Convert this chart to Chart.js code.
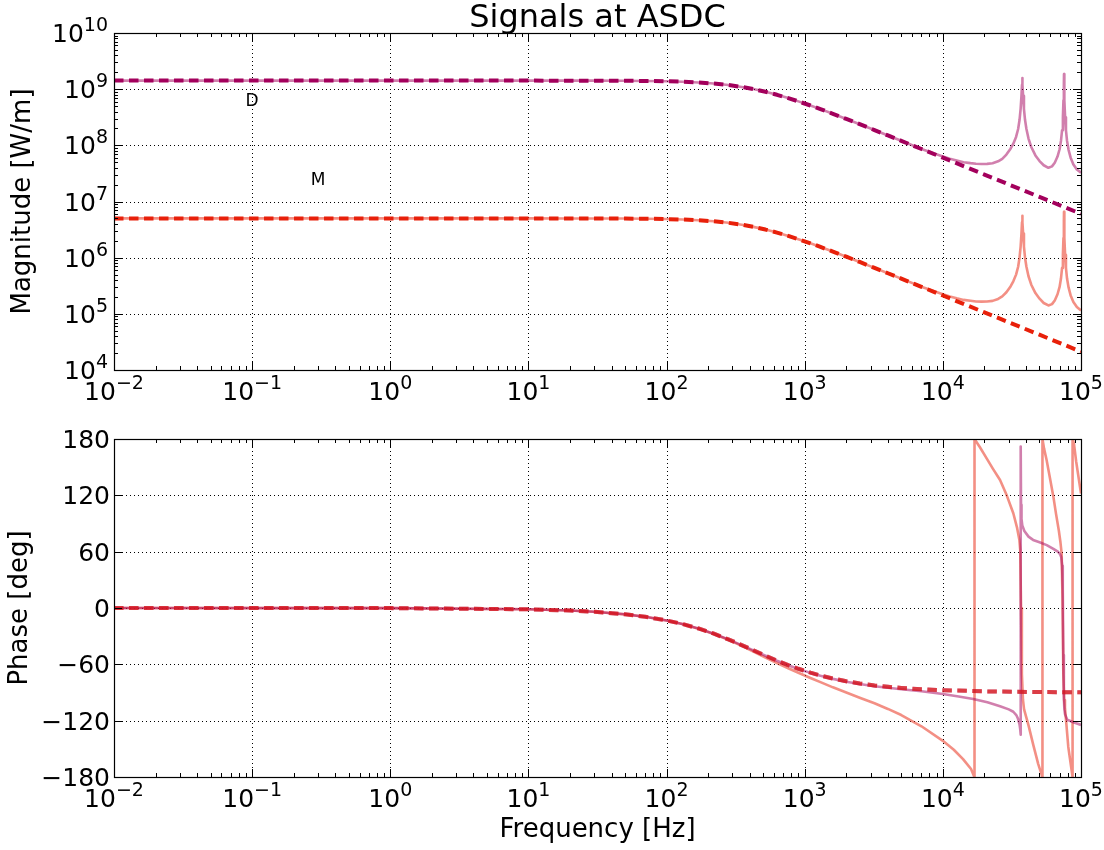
<!DOCTYPE html>
<html>
<head>
<meta charset="utf-8">
<script src="https://cdn.jsdelivr.net/npm/chart.js@4.4.0/dist/chart.umd.min.js"></script>
<style>
  body { margin: 0; background: #fff; }
  #wrap { position: relative; width: 1104px; height: 850px; }
  canvas { position: absolute; left: 0; }
  #mag { top: 0; }
  #phase { top: 420px; }
</style>
</head>
<body>
<div id="wrap">
  <canvas id="mag" width="1104" height="420"></canvas>
  <canvas id="phase" width="1104" height="430"></canvas>
</div>
<script>
// measured magnitude, frequency points in Hz
const freqMeas = [0.01, 1, 10, 20, 30, 50, 70, 100, 130, 170,
  220, 280, 350, 425, 520, 630, 760, 900, 1100, 1300,
  1600, 2000, 2500, 3200, 4000, 5000,
  7079, 10000, 11220, 12589, 14125, 15849, 17378, 19055, 20893, 22909,
  25119, 26915, 28840, 30903, 32359, 33884, 35075, 35892, 36559, 37068,
  37411, 37584, 37757, 38107, 38637, 39355, 40272, 41687, 43652, 46774,
  50119, 53703, 58076, 61660, 64565, 67608, 69984, 71614, 72946, 73961,
  74645, 75162, 75336, 75509, 76033, 76736, 77804, 79250, 81283, 84140,
  88105, 93325, 100000];
const magD = [1.42e9, 1.42e9, 1.42e9, 1.418e9, 1.417e9, 1.41e9, 1.401e9, 1.382e9, 1.358e9, 1.318e9,
  1.261e9, 1.186e9, 1.096e9, 1.004e9, 8.99e8, 7.94e8, 6.93e8, 6.06e8, 5.12e8, 4.41e8,
  3.65e8, 2.95e8, 2.38e8, 1.87e8, 1.5e8, 1.203e8,
  8.51e7, 6.31e7, 5.75e7, 5.35e7, 5.01e7, 4.82e7, 4.7e7, 4.66e7, 4.68e7, 4.79e7,
  5.19e7, 5.75e7, 6.84e7, 8.71e7, 1.07e8, 1.41e8, 1.95e8, 2.82e8, 4.47e8, 7.59e8,
  1.2e9, 1.58e9, 1.2e9, 7.59e8, 4.47e8, 2.82e8, 1.95e8, 1.32e8, 9.33e7, 6.61e7,
  5.25e7, 4.42e7, 3.98e7, 4.22e7, 4.9e7, 6.31e7, 8.51e7, 1.2e8, 1.86e8, 3.16e8,
  6.31e8, 1.26e9, 1.86e9, 1.26e9, 6.31e8, 3.16e8, 1.86e8, 1.2e8, 8.32e7, 6.03e7,
  4.57e7, 3.72e7, 3.26e7];
const magM = [5.0e6, 5.0e6, 5.0e6, 4.995e6, 4.988e6, 4.966e6, 4.934e6, 4.867e6, 4.781e6, 4.642e6,
  4.44e6, 4.175e6, 3.86e6, 3.536e6, 3.164e6, 2.796e6, 2.44e6, 2.135e6, 1.802e6, 1.554e6,
  1.284e6, 1.039e6, 8.38e5, 6.58e5, 5.28e5, 4.235e5,
  3.01e5, 2.23e5, 2.04e5, 1.89e5, 1.77e5, 1.71e5, 1.66e5, 1.65e5, 1.66e5, 1.7e5,
  1.84e5, 2.04e5, 2.42e5, 3.08e5, 3.79e5, 4.99e5, 6.9e5, 9.98e5, 1.58e6, 2.69e6,
  4.25e6, 5.59e6, 4.25e6, 2.69e6, 1.58e6, 9.98e5, 6.9e5, 4.67e5, 3.3e5, 2.34e5,
  1.86e5, 1.56e5, 1.41e5, 1.49e5, 1.73e5, 2.23e5, 3.01e5, 4.25e5, 6.58e5, 1.12e6,
  2.23e6, 4.46e6, 6.58e6, 4.46e6, 2.23e6, 1.12e6, 6.58e5, 4.25e5, 2.95e5, 2.13e5,
  1.62e5, 1.32e5, 1.15e5];

// model curves (dashed)
const freqModel = [0.01, 1, 10, 20, 30, 50, 70, 100, 130, 170,
  220, 280, 350, 425, 520, 630, 760, 900, 1100, 1300,
  1600, 2000, 2500, 3200, 4000, 5000, 7000, 10000, 20000, 50000, 100000];
const magDModel = [1.42e9, 1.42e9, 1.42e9, 1.418e9, 1.417e9, 1.41e9, 1.401e9, 1.382e9, 1.358e9, 1.318e9,
  1.261e9, 1.186e9, 1.096e9, 1.004e9, 8.99e8, 7.94e8, 6.93e8, 6.06e8, 5.12e8, 4.41e8,
  3.65e8, 2.95e8, 2.38e8, 1.87e8, 1.5e8, 1.203e8, 8.61e7, 6.03e7, 3.02e7, 1.207e7, 6.03e6];
const magMModel = [5.0e6, 5.0e6, 5.0e6, 4.995e6, 4.988e6, 4.966e6, 4.934e6, 4.867e6, 4.781e6, 4.642e6,
  4.44e6, 4.175e6, 3.86e6, 3.536e6, 3.164e6, 2.796e6, 2.44e6, 2.135e6, 1.802e6, 1.554e6,
  1.284e6, 1.039e6, 8.38e5, 6.58e5, 5.28e5, 4.235e5, 3.03e5, 2.12e5, 1.062e5, 4.25e4, 2.12e4];
const phaseModel = [0, -0.13, -1.35, -2.69, -4.04, -6.71, -9.35, -13.24, -17.01, -21.8,
  -27.37, -33.38, -39.47, -45, -50.74, -56, -60.79, -64.72, -68.87, -71.9,
  -75.13, -78, -80.35, -82.43, -83.93, -85.14, -86.53, -87.57, -88.78, -89.51, -89.76];

// measured phase, each trace on its own points
const freqPhaseD = [0.01, 1, 10, 20, 30, 50, 70, 100, 130, 170,
  220, 280, 350, 425, 520, 630, 760, 900, 1100, 1300,
  1600, 2000, 2500, 3200, 4000, 5000, 7000, 10000, 13000, 16600,
  21000, 25942, 30000, 32359, 34000, 35000, 35892, 36300, 36559, 36650,
  36800, 37100, 37584, 38905, 41687, 45000, 50119, 56494, 63096, 68000,
  70469, 72000, 73000, 73790, 74473, 75162, 75800, 76600, 79433, 89125,
  100000];
const phaseD = [0, -0.13, -1.35, -2.69, -4.04, -6.71, -9.35, -13.24, -17, -21.8,
  -27.4, -33.4, -39.5, -45.1, -50.9, -56.2, -61, -64.9, -69.1, -72.2,
  -75.5, -78.5, -81, -83.3, -85, -86.6, -88.7, -91.6, -94.2, -97,
  -100.5, -104.6, -108, -110.5, -114, -118, -124, -129, -135, 172,
  110, 95, 88, 82, 76, 72.5, 70, 67, 63, 60,
  57.5, 54, 45, 20, -50, -95, -108, -113, -119, -122,
  -124.6];
const freqPhaseM = [0.01, 1, 10, 20, 30, 50, 70, 100, 130, 170,
  220, 280, 350, 425, 520, 630, 760, 900, 1100, 1300,
  1600, 2000, 2500, 3200, 4000, 5000, 7000, 10000, 12000, 14000,
  16000, 16900, 16950, 18500, 20749, 23000, 25942, 29000, 32359, 34500,
  35810, 36308, 36813, 37325, 38019, 38726, 41687, 45186, 48978, 52000,
  52360, 52602, 54000, 56364, 60000, 63096, 66000, 69183, 71000, 72444,
  73451, 74473, 75509, 76560, 80910, 86497, 86696, 87096, 88920, 92257,
  100000];
const phaseM = [0, -0.13, -1.35, -2.7, -4.05, -6.75, -9.4, -13.3, -17.1, -22,
  -27.7, -33.9, -40.3, -46.3, -52.7, -58.6, -64.2, -69, -74.5, -79,
  -84.5, -90, -95.5, -101.5, -107.5, -114, -126, -141.5, -151, -161,
  -171.5, -180, 180, 171.5, 159.4, 148.5, 136.3, 120, 100.9, 85,
  72.4, 62, 0, -70, -98, -108, -125, -146, -166, -178,
  -180, 180, 170, 157.6, 136, 118.6, 100, 82, 70, 58,
  10, -70, -98, -106, -148, -178, -180, 180, 175, 156,
  122];

// axes
const freqDecades = [1e-2, 1e-1, 1e0, 1e1, 1e2, 1e3, 1e4, 1e5];
const freqExp = ['\u22122', '\u22121', '0', '1', '2', '3', '4', '5'];
const magDecades = [1e4, 1e5, 1e6, 1e7, 1e8, 1e9, 1e10];
const magExp = ['4', '5', '6', '7', '8', '9', '10'];
const phaseTicks = [-180, -120, -60, 0, 60, 120, 180];

// text notes on the magnitude plot
const noteText = ['D', 'M'];
const noteX = [0.1, 0.3];
const noteY = [5e8, 2e7];

const colD = 'rgb(163,0,92)';
const colM = 'rgb(232,32,10)';
const colDSoft = 'rgba(163,0,92,0.5)';
const colMSoft = 'rgba(232,32,10,0.5)';
const FONT = '"DejaVu Sans", sans-serif';

function powLabel(ctx, exp, x, y, align) {
  ctx.font = '25px ' + FONT;
  const wb = ctx.measureText('10').width;
  ctx.font = '19px ' + FONT;
  const we = ctx.measureText(exp).width;
  const x0 = align === 'right' ? x - wb - we : x - (wb + we) / 2;
  ctx.textAlign = 'left';
  ctx.textBaseline = 'alphabetic';
  ctx.font = '25px ' + FONT;
  ctx.fillText('10', x0, y);
  ctx.font = '19px ' + FONT;
  ctx.fillText(exp, x0 + wb, y - 11);
}

function seg(ctx, x1, y1, x2, y2) {
  ctx.beginPath();
  ctx.moveTo(x1, y1);
  ctx.lineTo(x2, y2);
  ctx.stroke();
}

const framePlugin = {
  id: 'frame',
  beforeDatasetsDraw(chart, args, o) {
    const { ctx, chartArea: a, scales: { x, y } } = chart;
    ctx.save();
    ctx.strokeStyle = '#000';
    ctx.lineWidth = 1;
    ctx.setLineDash([1, 3]);
    freqDecades.forEach(v => {
      const px = Math.round(x.getPixelForValue(v)) + 0.5;
      seg(ctx, px, a.top, px, a.bottom);
    });
    o.yTicks.forEach(v => {
      const py = Math.round(y.getPixelForValue(v)) + 0.5;
      seg(ctx, a.left, py, a.right, py);
    });
    ctx.restore();
  },
  afterDatasetsDraw(chart, args, o) {
    const { ctx, chartArea: a, scales: { x, y } } = chart;
    ctx.save();
    ctx.strokeStyle = '#000';
    ctx.lineWidth = 1;
    // tick marks, inward on all four sides
    const xt = (v, len) => {
      const px = Math.round(x.getPixelForValue(v)) + 0.5;
      seg(ctx, px, a.bottom, px, a.bottom - len);
      seg(ctx, px, a.top, px, a.top + len);
    };
    const yt = (v, len) => {
      const py = Math.round(y.getPixelForValue(v)) + 0.5;
      seg(ctx, a.left, py, a.left + len, py);
      seg(ctx, a.right, py, a.right - len, py);
    };
    freqDecades.forEach((d, i) => {
      xt(d, 8);
      if (i < freqDecades.length - 1) for (let k = 2; k < 10; k++) xt(d * k, 4);
    });
    o.yTicks.forEach((d, i) => {
      yt(d, 8);
      if (o.yLog && i < o.yTicks.length - 1) for (let k = 2; k < 10; k++) yt(d * k, 4);
    });
    ctx.lineWidth = 1.2;
    ctx.strokeRect(Math.round(a.left) + 0.5, Math.round(a.top) + 0.5,
      Math.round(a.right - a.left), Math.round(a.bottom - a.top));

    ctx.fillStyle = '#000';
    // x tick labels
    freqDecades.forEach((d, i) => powLabel(ctx, freqExp[i], x.getPixelForValue(d), a.bottom + 30, 'center'));
    // y tick labels
    o.yTicks.forEach((d, i) => {
      const py = y.getPixelForValue(d) + 9;
      if (o.yLog) {
        powLabel(ctx, o.yExp[i], a.left - 6, py, 'right');
      } else {
        ctx.font = '25px ' + FONT;
        ctx.textAlign = 'right';
        ctx.textBaseline = 'alphabetic';
        ctx.fillText(String(d).replace('-', '\u2212'), a.left - 4, py);
      }
    });
    // y axis title
    ctx.save();
    ctx.translate(o.yTitleX, (a.top + a.bottom) / 2);
    ctx.rotate(-Math.PI / 2);
    ctx.font = '26px ' + FONT;
    ctx.textAlign = 'center';
    ctx.textBaseline = 'middle';
    ctx.fillText(o.yTitle, 0, 0);
    ctx.restore();

    ctx.textAlign = 'center';
    ctx.textBaseline = 'alphabetic';
    if (o.title) {
      ctx.font = '32px ' + FONT;
      ctx.fillText(o.title, (a.left + a.right) / 2, a.top - 6);
    }
    if (o.xTitle) {
      ctx.font = '26px ' + FONT;
      ctx.fillText(o.xTitle, (a.left + a.right) / 2, a.bottom + 60);
    }
    if (o.notes) {
      ctx.font = '17px ' + FONT;
      noteText.forEach((t, i) => ctx.fillText(t, x.getPixelForValue(noteX[i]), y.getPixelForValue(noteY[i])));
    }
    ctx.restore();
  }
};

function lineSet(xs, ys, color, width, dash, order) {
  return {
    data: xs.map((f, i) => ({ x: f, y: ys[i] })),
    borderColor: color,
    borderWidth: width,
    borderDash: dash,
    borderJoinStyle: 'round',
    pointRadius: 0,
    tension: 0,
    fill: false,
    order: order
  };
}

function makeOptions(yScale, padTop, xHeight, frame) {
  return {
    responsive: false,
    animation: false,
    devicePixelRatio: 1,
    layout: { padding: { left: 0, right: 23, top: padTop, bottom: 0 } },
    plugins: { legend: { display: false }, tooltip: { enabled: false }, frame: frame },
    scales: {
      x: {
        type: 'logarithmic', min: 0.01, max: 1e5,
        ticks: { display: false }, grid: { display: false }, border: { display: false },
        afterFit: s => { s.height = xHeight; }
      },
      y: Object.assign({
        ticks: { display: false }, grid: { display: false }, border: { display: false },
        afterFit: s => { s.width = 114; }
      }, yScale)
    }
  };
}

const dash = [9.5, 5.5];

new Chart(document.getElementById('mag'), {
  type: 'line',
  data: {
    datasets: [
      lineSet(freqModel, magDModel, colD, 4, dash, 0),
      lineSet(freqModel, magMModel, colM, 4, dash, 0),
      lineSet(freqMeas, magD, colDSoft, 2.6, [], 1),
      lineSet(freqMeas, magM, colMSoft, 2.6, [], 1)
    ]
  },
  options: makeOptions({ type: 'logarithmic', min: 1e4, max: 1e10 }, 33, 50,
    { yTicks: magDecades, yExp: magExp, yLog: true, yTitle: 'Magnitude [W/m]', yTitleX: 23,
      title: 'Signals at ASDC', notes: true }),
  plugins: [framePlugin]
});

new Chart(document.getElementById('phase'), {
  type: 'line',
  data: {
    datasets: [
      lineSet(freqModel, phaseModel, 'rgba(232,32,10,0.6)', 4, dash, 0),
      lineSet(freqModel, phaseModel, 'rgba(163,0,92,0.6)', 4, dash, 1),
      lineSet(freqPhaseD, phaseD, colDSoft, 2.6, [], 2),
      lineSet(freqPhaseM, phaseM, colMSoft, 2.6, [], 2)
    ]
  },
  options: makeOptions({ type: 'linear', min: -180, max: 180 }, 19, 73,
    { yTicks: phaseTicks, yLog: false, yTitle: 'Phase [deg]', yTitleX: 20, xTitle: 'Frequency [Hz]' }),
  plugins: [framePlugin]
});
</script>
</body>
</html>
